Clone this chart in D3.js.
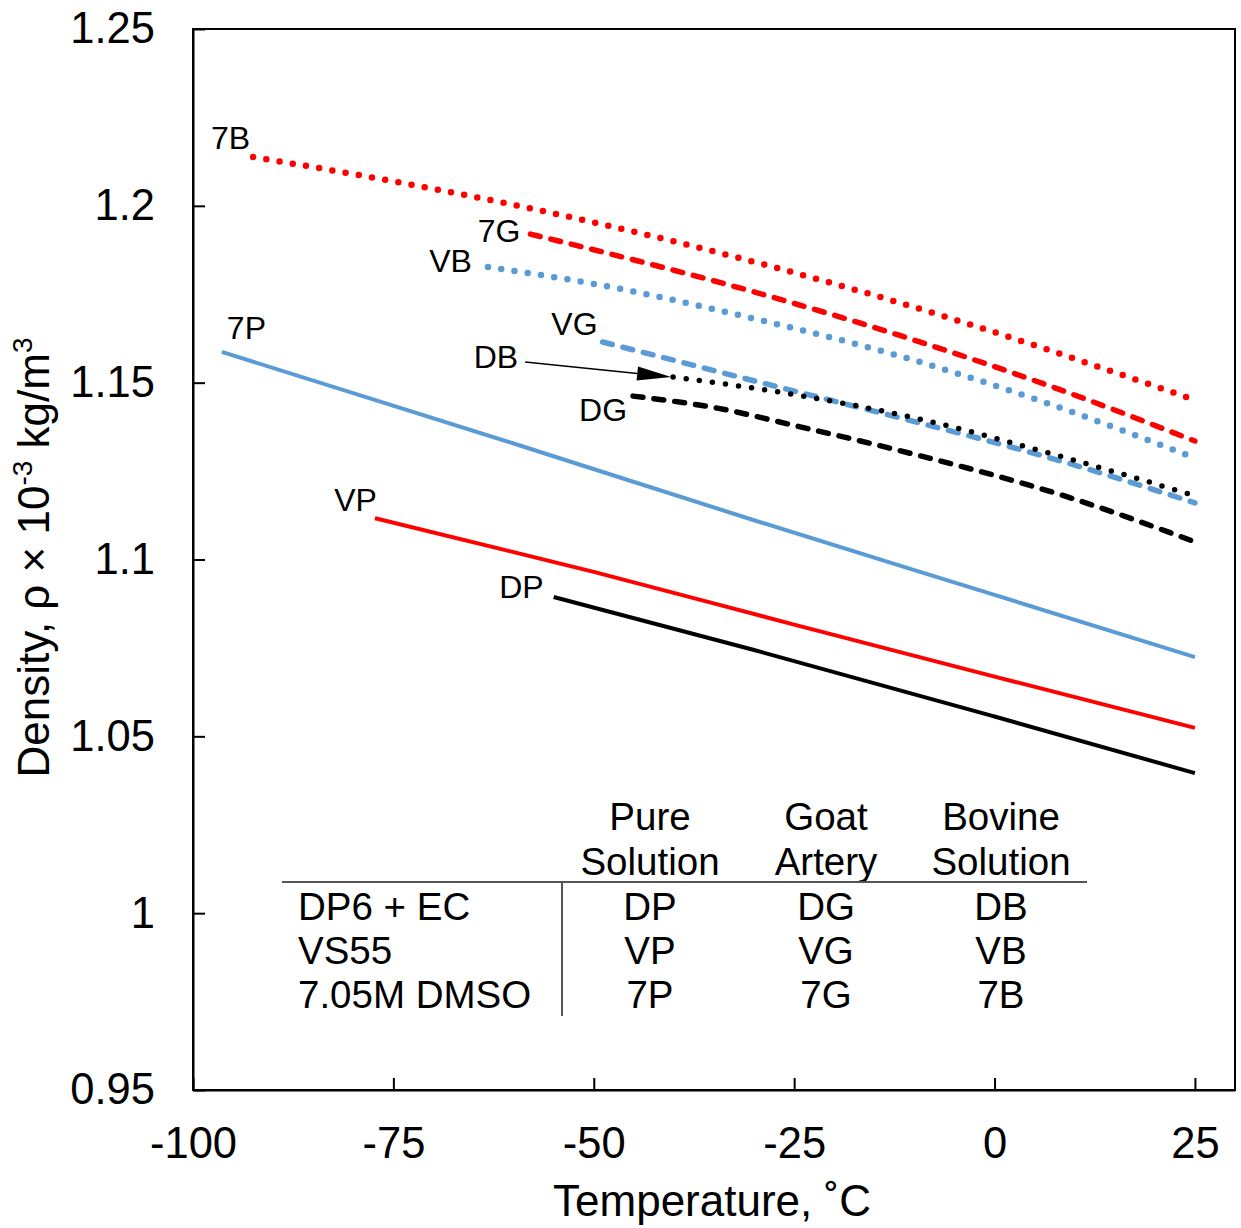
<!DOCTYPE html>
<html><head><meta charset="utf-8">
<script src="https://cdn.jsdelivr.net/npm/d3@7"></script>
<style>
body{margin:0;background:#fff;}
text{font-family:"Liberation Sans",Arial,sans-serif;fill:#000;}
</style></head>
<body><svg id="c" width="1241" height="1228"></svg>
<script>
// ---- data (temperature °C, density ×10^-3 kg/m^3) ----
const xTicks = [-100, -75, -50, -25, 0, 25];
const yTicks = [0.95, 1, 1.05, 1.1, 1.15, 1.2, 1.25];

const t7P = [-96.4, -60, -30, 0, 25];
const d7P = [1.1587, 1.1328, 1.1111, 1.0900, 1.0724];
const tVP = [-77.3, -50, -25, 0, 25];
const dVP = [1.1117, 1.0965, 1.0816, 1.0669, 1.0524];
const tDP = [-55.0, -30, 0, 25];
const dDP = [1.0894, 1.0744, 1.0556, 1.0396];

const t7B = [-92.5, -76.6, -58.8, -49.2, -11.7, 25];
const d7B = [1.2138, 1.2076, 1.1997, 1.1949, 1.1725, 1.1451];
const t7G = [-57.9, -50.4, -29.6, -10.8, 6.6, 25];
const d7G = [1.1920, 1.1878, 1.1754, 1.1626, 1.1493, 1.1335];
const tVB = [-63.2, -49.2, -30.4, -11.5, 6.8, 25];
const dVB = [1.1827, 1.1776, 1.1683, 1.1573, 1.1440, 1.1287];
const tVG = [-48.9, -24.6, -11.7, 9.1, 25];
const dVG = [1.1615, 1.1474, 1.1400, 1.1273, 1.1160];
const tDB = [-40.1, -24.6, -10.5, 9.9, 25];
const dDB = [1.1516, 1.1465, 1.1403, 1.1281, 1.1180];
const tDG = [-45.1, -34.6, -24.6, -11.7, 9.1, 25];
const dDG = [1.1462, 1.1428, 1.1377, 1.1307, 1.1177, 1.1050];

const tableCols = ["Pure\nSolution", "Goat\nArtery", "Bovine\nSolution"];
const tableRows = ["DP6 + EC", "VS55", "7.05M DMSO"];
const tableCells = [["DP","DG","DB"],["VP","VG","VB"],["7P","7G","7B"]];

// ---- styles ----
const RED = "#ff0000", BLUE = "#5b9bd5", BLACK = "#000000";
const series = [
  {name:"7P", t:t7P, d:d7P, color:BLUE, style:"solid", lab:{anchor:"start", dx:5, dy:-13}},
  {name:"VP", t:tVP, d:dVP, color:RED, style:"solid", lab:{anchor:"end", dx:2, dy:-7}},
  {name:"DP", t:tDP, d:dDP, color:BLACK, style:"solid", lab:{anchor:"end", dx:-10, dy:1}},
  {name:"7B", t:t7B, d:d7B, color:RED, style:"dot", lab:{anchor:"end", dx:-3, dy:-8}},
  {name:"7G", t:t7G, d:d7G, color:RED, style:"dash", lab:{anchor:"end", dx:-10, dy:8}},
  {name:"VB", t:tVB, d:dVB, color:BLUE, style:"dot", lab:{anchor:"end", dx:-16, dy:5}},
  {name:"VG", t:tVG, d:dVG, color:BLUE, style:"dash", lab:{anchor:"end", dx:-5, dy:-7}},
  {name:"DG", t:tDG, d:dDG, color:BLACK, style:"dash", lab:{anchor:"end", dx:-6, dy:25}},
  {name:"DB", t:tDB, d:dDB, color:BLACK, style:"dotsmall", lab:null}
];

const svg = d3.select("#c");
const x = d3.scaleLinear().domain([-100, 30]).range([193, 1235]);
const y = d3.scaleLinear().domain([0.95, 1.25]).range([1090, 29]);

const FONT = "Liberation Sans, Arial, sans-serif";

// frame
svg.append("rect").attr("x", x(-100)).attr("y", y(1.25))
  .attr("width", x(30)-x(-100)).attr("height", y(0.95)-y(1.25))
  .attr("fill","none").attr("stroke","#000").attr("stroke-width",2);

// axes
const xAxis = d3.axisBottom(x).tickValues(xTicks).tickSizeInner(-12).tickSizeOuter(0)
  .tickPadding(37).tickFormat(d => String(d));
const gx = svg.append("g").attr("transform",`translate(0,${y(0.95)})`).call(xAxis);
gx.select(".domain").attr("stroke-width",2);
gx.selectAll(".tick line").attr("stroke-width",2);
gx.selectAll("text").attr("font-size",43.5).attr("font-family",FONT);

const yAxis = d3.axisLeft(y).tickValues(yTicks).tickSizeInner(-12).tickSizeOuter(0)
  .tickPadding(38).tickFormat(d => String(+d.toFixed(2)));
const gy = svg.append("g").attr("transform",`translate(${x(-100)},0)`).call(yAxis);
gy.select(".domain").attr("stroke-width",2);
gy.selectAll(".tick line").attr("stroke-width",2);
gy.selectAll("text").attr("font-size",43.5).attr("font-family",FONT);

// axis titles
svg.append("text").attr("x", (x(-100)+x(30))/2 - 2).attr("y", 1216)
  .attr("text-anchor","middle").attr("font-size",44).text("Temperature, \u02DAC");
const yt = svg.append("text").attr("transform",`translate(49,${(y(0.95)+y(1.25))/2 - 2}) rotate(-90)`)
  .attr("text-anchor","middle").attr("font-size",44);
yt.append("tspan").text("Density, \u03C1 \u00D7 10");
yt.append("tspan").attr("font-size",28).attr("dy",-17).text("-3");
yt.append("tspan").attr("dy",17).text(" kg/m");
yt.append("tspan").attr("font-size",28).attr("dy",-17).text("3");

// lines
const line = d3.line().x(p => x(p[0])).y(p => y(p[1])).curve(d3.curveMonotoneX);
series.forEach(s => {
  const pts = s.t.map((t,i) => [t, s.d[i]]);
  const p = svg.append("path").datum(pts).attr("d", line)
    .attr("fill","none").attr("stroke", s.color);
  if (s.style === "solid") p.attr("stroke-width",4);
  else if (s.style === "dot") p.attr("stroke-width",6.5).attr("stroke-linecap","round").attr("stroke-dasharray","0 13.4");
  else if (s.style === "dotsmall") p.attr("stroke-width",5.5).attr("stroke-linecap","round").attr("stroke-dasharray","0 13.2");
  else if (s.style === "dash") p.attr("stroke-width",5.5).attr("stroke-linecap","round").attr("stroke-dasharray","10 11");
  if (s.lab) {
    svg.append("text").attr("x", x(s.t[0]) + s.lab.dx).attr("y", y(s.d[0]) + s.lab.dy)
      .attr("text-anchor", s.lab.anchor).attr("font-size",32).text(s.name);
  }
});

// DB label with arrow
const dbX = x(tDB[0]), dbY = y(dDB[0]);
svg.append("text").attr("x", dbX - 155).attr("y", dbY - 9).attr("text-anchor","end")
  .attr("font-size",32).text("DB");
const ax0 = dbX - 148, ay0 = dbY - 15, ax1 = dbX - 2, ay1 = dbY;
const ang = Math.atan2(ay1-ay0, ax1-ax0);
const hl = 34, hw = 7;
const bx = ax1 - hl*Math.cos(ang), by = ay1 - hl*Math.sin(ang);
svg.append("line").attr("x1",ax0).attr("y1",ay0).attr("x2",bx).attr("y2",by)
  .attr("stroke","#000").attr("stroke-width",1.6);
svg.append("path").attr("d",
  `M${ax1},${ay1} L${bx - hw*Math.sin(ang)},${by + hw*Math.cos(ang)} L${bx + hw*Math.sin(ang)},${by - hw*Math.cos(ang)} Z`)
  .attr("fill","#000");

// table
const colX = [650, 826, 1001];
const TF = 38.5;
const tbl = svg.append("g");
tableCols.forEach((c,i) => {
  c.split("\n").forEach((ln,j) => {
    tbl.append("text").attr("x", colX[i]).attr("y", 830 + j*45).attr("text-anchor","middle")
      .attr("font-size",TF).text(ln);
  });
});
tbl.append("line").attr("x1",282).attr("x2",1087).attr("y1",882).attr("y2",882)
  .attr("stroke","#555").attr("stroke-width",2);
tbl.append("line").attr("x1",562).attr("x2",562).attr("y1",882).attr("y2",1016)
  .attr("stroke","#555").attr("stroke-width",2);
tableRows.forEach((r,i) => {
  tbl.append("text").attr("x",298).attr("y", 920 + i*44).attr("font-size",TF).text(r);
  tableCells[i].forEach((c,j) => {
    tbl.append("text").attr("x", colX[j]).attr("y", 920 + i*44).attr("text-anchor","middle")
      .attr("font-size",TF).text(c);
  });
});
</script></body></html>
